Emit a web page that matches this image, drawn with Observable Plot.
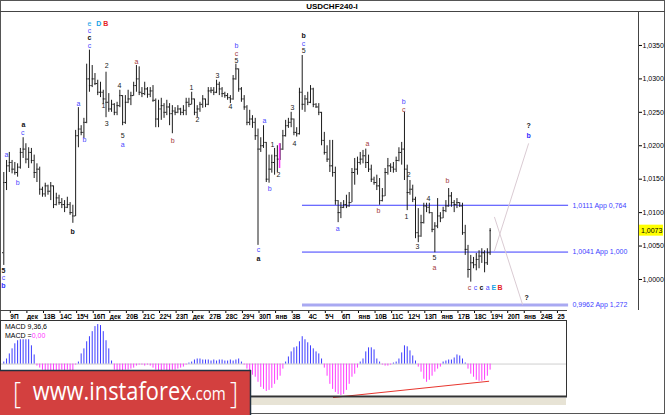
<!DOCTYPE html>
<html><head><meta charset="utf-8">
<script src="https://cdn.jsdelivr.net/npm/d3@7"></script>
<script src="https://cdn.jsdelivr.net/npm/@observablehq/plot@0.6"></script>
<style>
html,body{margin:0;padding:0;background:#fff;}
#wrap{position:relative;width:665px;height:415px;overflow:hidden;background:#fff;}
#wrap svg{position:absolute;left:0;}
</style></head><body><div id="wrap"></div>
<script>
// ---------- data (USDCHF, H4 bars) ----------
const open = [1.0040,1.0145,1.0170,1.0175,1.0165,1.0160,1.0168,1.0190,1.0195,1.0180,
1.0190,1.0178,1.0160,1.0165,1.0135,1.0128,1.0140,1.0132,1.0140,1.0112,
1.0122,1.0115,1.0112,1.0108,1.0112,1.0100,1.0095,1.0215,1.0225,1.0220,
1.0235,1.0300,1.0290,1.0300,1.0293,1.0280,1.0280,1.0270,1.0265,1.0255,
1.0262,1.0250,1.0260,1.0275,1.0235,1.0265,1.0270,1.0275,1.0290,1.0300,
1.0280,1.0278,1.0285,1.0277,1.0282,1.0268,1.0240,1.0255,1.0260,1.0250,
1.0258,1.0248,1.0252,1.0250,1.0255,1.0250,1.0253,1.0265,1.0262,1.0270,
1.0250,1.0255,1.0262,1.0270,1.0262,1.0282,1.0283,1.0280,1.0292,1.0285,
1.0278,1.0275,1.0272,1.0270,1.0300,1.0315,1.0285,1.0270,1.0258,1.0235,
1.0240,1.0235,1.0215,1.0195,1.0200,1.0205,1.0150,1.0165,1.0175,1.0185,
1.0180,1.0195,1.0215,1.0230,1.0235,1.0240,1.0220,1.0218,1.0280,1.0262,
1.0270,1.0265,1.0285,1.0262,1.0258,1.0250,1.0208,1.0190,1.0180,1.0170,
1.0160,1.0118,1.0100,1.0108,1.0112,1.0110,1.0115,1.0160,1.0165,1.0175,
1.0180,1.0185,1.0175,1.0165,1.0150,1.0145,1.0140,1.0118,1.0125,1.0160,
1.0170,1.0168,1.0165,1.0178,1.0190,1.0195,1.0165,1.0130,1.0135,1.0120,
1.0070,1.0065,1.0085,1.0110,1.0108,1.0100,1.0075,1.0080,1.0095,1.0092,
1.0103,1.0110,1.0125,1.0115,1.0112,1.0115,1.0110,1.0070,1.0045,1.0015,
1.0025,1.0022,1.0030,1.0035,1.0040,1.0025,1.0040];
const high = [1.0160,1.0178,1.0190,1.0178,1.0175,1.0173,1.0196,1.0212,1.0203,1.0197,
1.0196,1.0186,1.0173,1.0168,1.0138,1.0144,1.0141,1.0145,1.0140,1.0129,
1.0126,1.0121,1.0118,1.0123,1.0115,1.0111,1.0223,1.0257,1.0230,1.0241,
1.0322,1.0343,1.0320,1.0308,1.0298,1.0295,1.0283,1.0310,1.0278,1.0268,
1.0263,1.0265,1.0283,1.0275,1.0275,1.0283,1.0280,1.0295,1.0320,1.0318,
1.0287,1.0295,1.0287,1.0287,1.0290,1.0270,1.0268,1.0271,1.0263,1.0268,
1.0263,1.0260,1.0257,1.0260,1.0256,1.0260,1.0271,1.0271,1.0280,1.0270,
1.0260,1.0265,1.0275,1.0270,1.0287,1.0287,1.0287,1.0298,1.0295,1.0287,
1.0280,1.0278,1.0275,1.0305,1.0322,1.0315,1.0287,1.0275,1.0260,1.0253,
1.0245,1.0241,1.0225,1.0212,1.0230,1.0205,1.0186,1.0186,1.0196,1.0200,
1.0203,1.0223,1.0238,1.0241,1.0250,1.0240,1.0227,1.0286,1.0335,1.0275,
1.0280,1.0290,1.0286,1.0263,1.0263,1.0250,1.0220,1.0200,1.0208,1.0208,
1.0168,1.0118,1.0115,1.0118,1.0126,1.0130,1.0166,1.0181,1.0183,1.0190,
1.0193,1.0195,1.0186,1.0171,1.0153,1.0156,1.0151,1.0136,1.0166,1.0181,
1.0173,1.0175,1.0183,1.0197,1.0205,1.0250,1.0171,1.0148,1.0141,1.0123,
1.0106,1.0096,1.0114,1.0114,1.0114,1.0100,1.0085,1.0121,1.0100,1.0108,
1.0118,1.0136,1.0130,1.0118,1.0121,1.0115,1.0114,1.0081,1.0051,1.0036,
1.0033,1.0039,1.0043,1.0046,1.0043,1.0046,1.0076];
const low = [1.0021,1.0133,1.0160,1.0158,1.0156,1.0153,1.0165,1.0181,1.0173,1.0166,
1.0173,1.0151,1.0145,1.0126,1.0123,1.0123,1.0126,1.0118,1.0106,1.0110,
1.0111,1.0106,1.0100,1.0106,1.0096,1.0084,1.0094,1.0197,1.0215,1.0211,
1.0233,1.0280,1.0287,1.0290,1.0275,1.0272,1.0262,1.0242,1.0250,1.0250,
1.0245,1.0245,1.0257,1.0230,1.0232,1.0263,1.0260,1.0274,1.0280,1.0275,
1.0272,1.0275,1.0271,1.0272,1.0265,1.0227,1.0227,1.0238,1.0241,1.0245,
1.0230,1.0218,1.0245,1.0248,1.0245,1.0245,1.0245,1.0257,1.0261,1.0245,
1.0242,1.0250,1.0256,1.0257,1.0260,1.0278,1.0275,1.0278,1.0275,1.0272,
1.0271,1.0268,1.0263,1.0268,1.0298,1.0280,1.0265,1.0253,1.0230,1.0230,
1.0226,1.0208,1.0051,1.0190,1.0196,1.0145,1.0144,1.0159,1.0156,1.0160,
1.0178,1.0193,1.0213,1.0226,1.0227,1.0215,1.0213,1.0216,1.0253,1.0250,
1.0260,1.0263,1.0257,1.0256,1.0245,1.0200,1.0186,1.0175,1.0160,1.0153,
1.0111,1.0085,1.0091,1.0106,1.0106,1.0108,1.0115,1.0141,1.0156,1.0171,
1.0173,1.0166,1.0160,1.0145,1.0141,1.0133,1.0111,1.0116,1.0124,1.0156,
1.0160,1.0159,1.0160,1.0176,1.0171,1.0148,1.0103,1.0126,1.0115,1.0061,
1.0055,1.0063,1.0083,1.0100,1.0098,1.0070,1.0040,1.0076,1.0085,1.0091,
1.0100,1.0108,1.0108,1.0100,1.0106,1.0108,1.0066,1.0036,1.0002,0.9996,
1.0016,1.0013,1.0016,1.0024,1.0010,1.0021,1.0036];
const close = [1.0145,1.0170,1.0175,1.0165,1.0160,1.0168,1.0190,1.0195,1.0180,1.0190,
1.0178,1.0160,1.0165,1.0135,1.0128,1.0140,1.0132,1.0140,1.0112,1.0122,
1.0115,1.0112,1.0108,1.0112,1.0100,1.0095,1.0215,1.0225,1.0220,1.0235,
1.0300,1.0290,1.0300,1.0293,1.0280,1.0280,1.0270,1.0265,1.0255,1.0262,
1.0250,1.0260,1.0275,1.0235,1.0265,1.0270,1.0275,1.0290,1.0300,1.0280,
1.0278,1.0285,1.0277,1.0282,1.0268,1.0240,1.0255,1.0260,1.0250,1.0258,
1.0248,1.0252,1.0250,1.0255,1.0250,1.0253,1.0265,1.0262,1.0270,1.0250,
1.0255,1.0262,1.0270,1.0262,1.0282,1.0283,1.0280,1.0292,1.0285,1.0278,
1.0275,1.0272,1.0270,1.0300,1.0315,1.0285,1.0270,1.0258,1.0235,1.0240,
1.0235,1.0215,1.0195,1.0200,1.0205,1.0150,1.0165,1.0175,1.0185,1.0180,
1.0195,1.0215,1.0230,1.0235,1.0240,1.0220,1.0218,1.0280,1.0262,1.0270,
1.0265,1.0285,1.0262,1.0258,1.0250,1.0208,1.0190,1.0180,1.0170,1.0160,
1.0118,1.0100,1.0108,1.0112,1.0110,1.0115,1.0160,1.0165,1.0175,1.0180,
1.0185,1.0175,1.0165,1.0150,1.0145,1.0140,1.0118,1.0125,1.0160,1.0170,
1.0168,1.0165,1.0178,1.0190,1.0195,1.0165,1.0130,1.0135,1.0120,1.0070,
1.0065,1.0085,1.0110,1.0108,1.0100,1.0075,1.0080,1.0095,1.0092,1.0103,
1.0110,1.0125,1.0115,1.0112,1.0115,1.0110,1.0070,1.0045,1.0015,1.0025,
1.0022,1.0030,1.0035,1.0040,1.0025,1.0040,1.0073];
// MACD(9,36,6) histogram, one value per bar
const macd = [0.0002,0.0005,0.0010,0.0015,0.0020,0.0023,0.0024,0.0024,0.0024,0.0024,0.0018,0.0009,
-0.0002,-0.0004,-0.0006,-0.0007,-0.0007,-0.0007,-0.0007,-0.0007,-0.0007,-0.0006,-0.0007,-0.0006,-0.0007,-0.0007,-0.0001,
0.0002,0.0010,0.0015,0.0022,0.0027,0.0032,0.0037,0.0039,0.0038,0.0032,0.0023,0.0015,0.0003,
-0.0006,-0.0007,-0.0007,-0.0007,-0.0006,-0.0006,-0.0005,-0.0004,-0.0002,
-0.0001,-0.0001,-0.0002,-0.0001,-0.0002,
-0.0004,-0.0006,-0.0007,-0.0007,-0.0006,-0.0007,-0.0007,-0.0006,-0.0006,-0.0005,-0.0004,-0.0003,-0.0001,
0.0001,0.0002,0.0004,0.0005,0.0005,0.0004,0.0004,0.0004,0.0003,0.0004,0.0003,0.0004,0.0004,0.0003,0.0003,0.0004,0.0003,0.0004,0.0005,0.0002,
-0.0001,
-0.0005,-0.0008,-0.0011,-0.0013,-0.0018,-0.0023,-0.0025,-0.0027,-0.0026,-0.0024,-0.0020,-0.0016,-0.0012,-0.0005,
0.0002,0.0007,0.0012,0.0016,0.0017,0.0022,0.0027,0.0024,0.0021,0.0018,0.0015,0.0012,0.0010,0.0005,
-0.0004,-0.0012,-0.0020,-0.0025,-0.0028,-0.0030,-0.0031,-0.0030,-0.0026,-0.0020,-0.0013,-0.0010,-0.0004,
0.0002,0.0005,0.0012,0.0016,0.0016,0.0014,0.0005,0.0002,
-0.0001,-0.0002,-0.0002,-0.0001,
0.0001,0.0002,0.0005,0.0011,0.0018,0.0017,0.0013,0.0008,0.0003,
-0.0003,-0.0008,-0.0015,-0.0018,-0.0016,-0.0012,-0.0008,-0.0005,-0.0003,
0.0002,0.0003,0.0004,0.0004,0.0006,0.0009,0.0008,0.0005,0.0001,
-0.0005,-0.0010,-0.0013,-0.0016,-0.0017,-0.0017,-0.0016,-0.0012,-0.0006];
const dayLabels = ["9П","дек","13В","14С","15Ч","16П","дек","20В","21С","22Ч","23П","дек","27В","28С","29Ч","30П","янв","3В","4С","5Ч","6П","янв","10В","11С","12Ч","13П","янв","17В","18С","19Ч","20П","янв","24В","25"];
const dayTickBars = [2,8,14,20,26,32,38,44,50,56,62,68,74,80,86,92,98,104,110,116,122,128,134,140,146,152,158,164,170,176,182,188,194,200];
const priceTicks = [1.0000,1.0050,1.0100,1.0150,1.0200,1.0250,1.0300,1.0350];
const fibLevels = [1.0111, 1.0041, 0.9962];
const fibTexts = ["1,0111 App 0,764", "1,0041 App 1,000", "0,9962 App 1,272"];
// wave labels: bar position, price, text, degree
const waves = [
{i:-0.1,p:1.0013,t:"5",d:"k"},{i:-0.1,p:1.0002,t:"c",d:"u"},{i:-0.1,p:0.9991,t:"b",d:"U"},
{i:1.0,p:1.0186,t:"a",d:"u"},{i:5.0,p:1.0145,t:"b",d:"u"},
{i:7.1,p:1.0231,t:"a",d:"k"},{i:6.9,p:1.0220,t:"c",d:"u"},
{i:24.9,p:1.0072,t:"b",d:"k"},{i:27.0,p:1.0263,t:"a",d:"u"},{i:29.2,p:1.0209,t:"b",d:"u"},
{i:31.0,p:1.0350,t:"c",d:"u"},{i:31.0,p:1.0361,t:"c",d:"k"},{i:31.0,p:1.0372,t:"c",d:"u"},
{i:31.0,p:1.0383,t:"e",d:"y"},{i:34.4,p:1.0383,t:"D",d:"y"},{i:36.9,p:1.0383,t:"B",d:"R"},
{i:37.2,p:1.0319,t:"2",d:"n"},{i:36.1,p:1.0260,t:"1",d:"n"},{i:37.2,p:1.0233,t:"3",d:"n"},
{i:41.9,p:1.0289,t:"4",d:"n"},{i:43.0,p:1.0215,t:"5",d:"n"},{i:43.0,p:1.0202,t:"a",d:"u"},
{i:48.0,p:1.0326,t:"a",d:"r"},{i:61.1,p:1.0208,t:"b",d:"r"},
{i:67.9,p:1.0287,t:"1",d:"n"},{i:70.1,p:1.0239,t:"2",d:"n"},{i:77.3,p:1.0304,t:"3",d:"n"},{i:82.0,p:1.0259,t:"4",d:"n"},
{i:84.2,p:1.0349,t:"b",d:"u"},{i:84.2,p:1.0338,t:"c",d:"r"},{i:84.2,p:1.0327,t:"5",d:"n"},
{i:94.3,p:1.0238,t:"a",d:"u"},{i:96.2,p:1.0136,t:"b",d:"u"},{i:97.2,p:1.0202,t:"1",d:"n"},{i:99.4,p:1.0157,t:"2",d:"n"},
{i:92.2,p:1.0044,t:"c",d:"u"},{i:92.2,p:1.0031,t:"a",d:"k"},
{i:104.5,p:1.0257,t:"3",d:"n"},{i:105.2,p:1.0203,t:"4",d:"n"},
{i:108.5,p:1.0364,t:"b",d:"k"},{i:108.5,p:1.0353,t:"c",d:"u"},{i:108.5,p:1.0342,t:"5",d:"n"},
{i:120.8,p:1.0076,t:"a",d:"u"},{i:131.6,p:1.0203,t:"a",d:"r"},{i:135.6,p:1.0103,t:"b",d:"r"},
{i:144.7,p:1.0266,t:"b",d:"u"},{i:144.7,p:1.0254,t:"c",d:"r"},
{i:146.5,p:1.0156,t:"2",d:"n"},{i:145.7,p:1.0094,t:"1",d:"n"},{i:149.7,p:1.0049,t:"3",d:"n"},
{i:153.7,p:1.0120,t:"4",d:"n"},{i:155.9,p:1.0032,t:"5",d:"n"},{i:155.9,p:1.0018,t:"a",d:"r"},
{i:160.6,p:1.0147,t:"b",d:"r"},
{i:168.5,p:0.9987,t:"c",d:"r"},{i:170.7,p:0.9987,t:"c",d:"u"},{i:172.9,p:0.9987,t:"c",d:"k"},
{i:175.1,p:0.9987,t:"a",d:"u"},{i:177.3,p:0.9987,t:"E",d:"y"},{i:179.6,p:0.9987,t:"B",d:"R"},
{i:189.2,p:0.9973,t:"?",d:"k"},{i:189.9,p:1.0230,t:"?",d:"k"},{i:189.9,p:1.0215,t:"b",d:"U"}
];
const projUp = [{i:177.6,p:1.0043},{i:189.9,p:1.0203}];
const projDown = [{i:177.6,p:1.0093},{i:187.7,p:0.9963}];
const marker = [{i:99.8,p1:1.0166,p2:1.0203}];
const macdTrend = [{i:119.3,v:-0.0033},{i:175.5,v:-0.0017}];

// ---------- styling / layout ----------
const FONT = "'Liberation Sans', Arial, sans-serif";
const degColor = {k:"#111111",n:"#222222",u:"#4848ff",U:"#3030ff",r:"#a33a3a",y:"#16a2e6",R:"#e42226"};
const isBold = d => d.d==="k"||d.d==="U"||d.d==="y"&&d.t!=="e"||d.d==="R";
const X_DOMAIN = [-1.19, 229.7];
const FIB_FROM = 108.1, FIB_TO = 204.4, FIB_TEXT = 205.8, PANEL_END = 203.6;
const BAR = "#1c1c1c";

const bars = close.map((c,i)=>({i, o:open[i], h:high[i], l:low[i], c}));
const fibs = fibLevels.map((p,k)=>({p, text:fibTexts[k]}));
const labelAt = new Map(dayTickBars.map((b,k)=>[b, dayLabels[k]]));

const main = Plot.plot({
  width:665, height:320,
  marginLeft:0, marginRight:27, marginTop:12, marginBottom:10,
  style:{background:"transparent", overflow:"visible", fontFamily:FONT},
  x:{domain:X_DOMAIN, label:null},
  y:{domain:[0.99536,1.03993], label:null},
  marks:[
    Plot.ruleY(fibs.slice(2), {y:"p", x1:()=>FIB_FROM, x2:()=>FIB_TO, stroke:"#a9a9f2", strokeWidth:3}),
    Plot.ruleY(fibs.slice(0,2), {y:"p", x1:()=>FIB_FROM, x2:()=>FIB_TO, stroke:"#3c3cff", strokeWidth:1}),
    Plot.text(fibs, {x:()=>FIB_TEXT, y:"p", text:"text", textAnchor:"start", fill:"#4040ff", fontSize:7}),
    Plot.line(projUp, {x:"i", y:"p", stroke:"#dacbd3", strokeWidth:1}),
    Plot.line(projDown, {x:"i", y:"p", stroke:"#dacbd3", strokeWidth:1}),
    Plot.ruleX(bars, {x:"i", y1:"l", y2:"h", stroke:BAR, strokeWidth:1}),
    Plot.ruleY(bars, {y:"o", x1:d=>d.i-0.45, x2:"i", stroke:BAR}),
    Plot.ruleY(bars, {y:"c", x1:"i", x2:d=>d.i+0.45, stroke:BAR}),
    Plot.ruleX(marker, {x:"i", y1:"p1", y2:"p2", stroke:"#ff2eff", strokeWidth:1.5}),
    Plot.text(waves.filter(d=>!isBold(d)), {x:"i", y:"p", text:"t", fill:d=>degColor[d.d], fontSize:7}),
    Plot.text(waves.filter(isBold), {x:"i", y:"p", text:"t", fill:d=>degColor[d.d], fontSize:7, fontWeight:"bold"}),
    Plot.axisY({anchor:"right", ticks:priceTicks, tickFormat:d=>d.toFixed(4).replace(".", ","), tickSize:3, tickPadding:1, fontSize:7, label:null}),
    Plot.axisX({ticks:dayTickBars, tickFormat:d=>labelAt.get(d), tickSize:3, tickPadding:1, textAnchor:"start", dx:1, fontSize:6.5, fontWeight:"bold", label:null})
  ]
});
main.style.top = "0px";

const macdData = macd.map((v,i)=>({i, v}));
const sub = Plot.plot({
  width:665, height:78,
  marginLeft:0, marginRight:27, marginTop:0, marginBottom:0,
  style:{background:"transparent", overflow:"visible", fontFamily:FONT},
  x:{domain:X_DOMAIN, axis:null},
  y:{domain:[-0.0034,0.0043], axis:null},
  marks:[
    Plot.ruleY([0], {x1:()=>X_DOMAIN[0], x2:()=>PANEL_END, stroke:"#cfcfcf"}),
    Plot.ruleX(macdData.filter(d=>d.v>=0), {x:"i", y1:()=>0, y2:"v", stroke:"#3c3cff"}),
    Plot.ruleX(macdData.filter(d=>d.v<0), {x:"i", y1:()=>0, y2:"v", stroke:"#ff3cff"}),
    Plot.line(macdTrend, {x:"i", y:"v", stroke:"#e8362e", strokeWidth:1})
  ]
});
sub.style.top = "320px";

const wrap = document.getElementById("wrap");
wrap.appendChild(main);
wrap.appendChild(sub);

// ---------- frame, title, labels, banner ----------
const ov = d3.select(wrap).append("svg").attr("width",665).attr("height",415).style("top","0px").style("font-family",FONT);
const ln = (x1,y1,x2,y2,c,w)=>ov.append("line").attr("x1",x1).attr("y1",y1).attr("x2",x2).attr("y2",y2).attr("stroke",c).attr("stroke-width",w||1);
ov.append("rect").attr("x",0.5).attr("y",0.5).attr("width",664).attr("height",413).attr("fill","none").attr("stroke","#555");
ln(0,11.5,665,11.5,"#444");
ln(638.5,11,638.5,310,"#444");
ln(0,310.5,567,310.5,"#444");
ov.append("text").attr("x",332).attr("y",9).attr("text-anchor","middle").attr("font-size",8).attr("font-weight","bold").text("USDCHF240-I");
// last price flag
const yLast = main.scale("y").apply(close[close.length-1]);
ov.append("rect").attr("x",639).attr("y",yLast-5.5).attr("width",24).attr("height",11).attr("fill","#ffff00");
ov.append("text").attr("x",641).attr("y",yLast+2.5).attr("font-size",7).attr("fill","#000").text(close[close.length-1].toFixed(4).replace(".", ","));
// MACD panel frame
ov.append("rect").attr("x",0.5).attr("y",320.5).attr("width",566).attr("height",76).attr("fill","none").attr("stroke","#333");
ln(0,396.5,567,396.5,"#333",2);
ov.append("rect").attr("x",1).attr("y",398).attr("width",565).attr("height",7).attr("fill","#e7e3d5");
ov.append("text").attr("x",5).attr("y",329).attr("font-size",7).attr("fill","#000").text("MACD 9,36,6");
const mt2 = ov.append("text").attr("x",5).attr("y",337.5).attr("font-size",7).attr("fill","#000");
mt2.append("tspan").text("MACD =");
mt2.append("tspan").attr("fill","#ff33ff").text("0,00");
// banner
ov.append("rect").attr("x",0).attr("y",370).attr("width",250).attr("height",45).attr("fill","#d3403f");
ln(0,370.5,251,370.5,"#22303f",1.5);
ln(250.5,370,250.5,415,"#22303f",1.5);
const bf = "'Open Sans', 'Liberation Sans', sans-serif";
const bt = ov.append("text").attr("transform","translate(13,400) scale(0.84,1)").attr("font-family",bf).attr("fill","#fff");
bt.append("tspan").attr("font-size",30).attr("font-weight",300).attr("dy",3).text("[");
bt.append("tspan").attr("font-size",26).attr("dx",14).attr("dy",-3).text("www.instaforex");
bt.append("tspan").attr("font-size",18).text(".com");
bt.append("tspan").attr("font-size",30).attr("font-weight",300).attr("dx",5).attr("dy",3).text("]");
</script></body></html>
